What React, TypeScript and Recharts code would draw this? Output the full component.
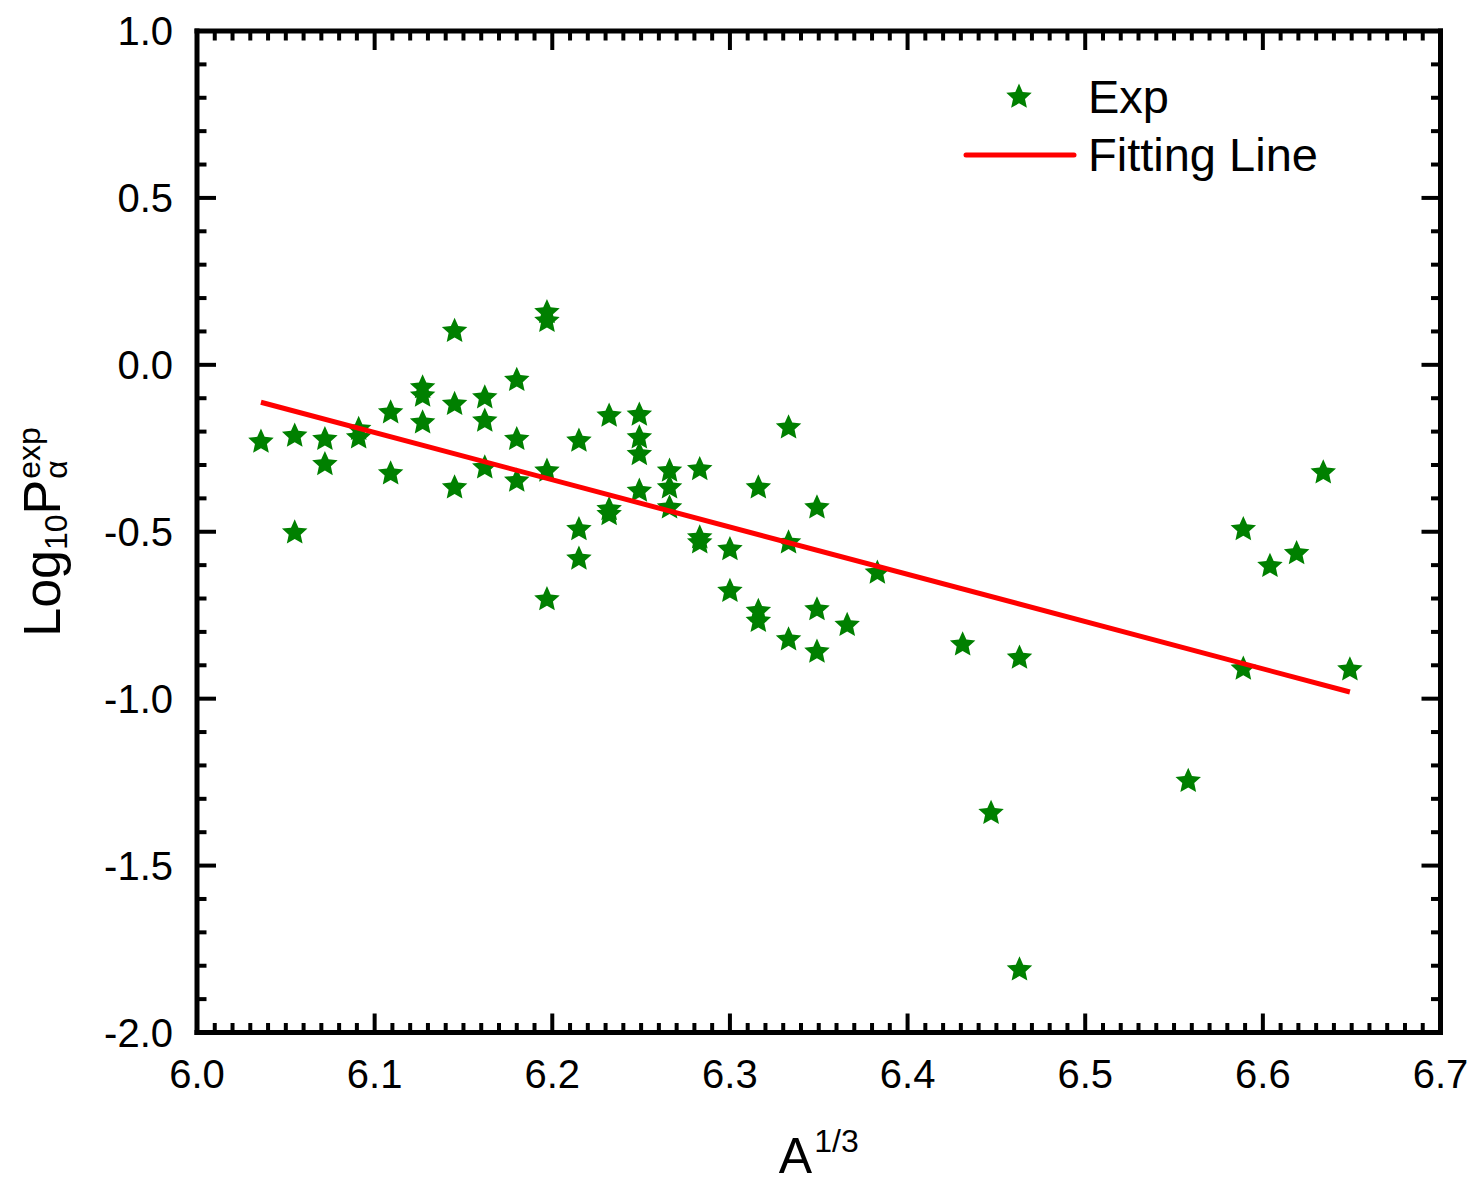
import { Scatter, ScatterChart, XAxis, YAxis } from "recharts";

// A^(1/3) of each nucleus and its log10 preformation probability
const cubeRootA = [
  6.036,
  6.055, 6.055,
  6.072, 6.072,
  6.091, 6.091,
  6.109, 6.109,
  6.127, 6.127, 6.127,
  6.145, 6.145, 6.145,
  6.162, 6.162, 6.162,
  6.18, 6.18, 6.18,
  6.197, 6.197, 6.197, 6.197,
  6.215, 6.215, 6.215,
  6.232, 6.232, 6.232,
  6.249, 6.249, 6.249, 6.249,
  6.266, 6.266, 6.266,
  6.283, 6.283, 6.283,
  6.3, 6.3,
  6.316, 6.316, 6.316,
  6.333, 6.333, 6.333,
  6.349, 6.349, 6.349,
  6.366,
  6.383,
  6.431,
  6.447,
  6.463, 6.463,
  6.558,
  6.589, 6.589,
  6.604,
  6.619,
  6.634,
  6.649,
];

const logP = [
  -0.228,
  -0.21, -0.5,
  -0.22, -0.295,
  -0.19, -0.215,
  -0.14, -0.323,
  -0.065, -0.09, -0.17,
  0.104, -0.115, -0.365,
  -0.095, -0.165, -0.305,
  -0.043, -0.22, -0.345,
  0.16, 0.134, -0.315, -0.7,
  -0.225, -0.49, -0.578,
  -0.15, -0.43, -0.445,
  -0.147, -0.215, -0.265, -0.375,
  -0.315, -0.365, -0.425,
  -0.31, -0.515, -0.53,
  -0.55, -0.675,
  -0.365, -0.735, -0.765,
  -0.185, -0.53, -0.82,
  -0.425, -0.73, -0.857,
  -0.777,
  -0.62,
  -0.835,
  -1.34,
  -0.875, -1.809,
  -1.244,
  -0.49, -0.908,
  -0.6,
  -0.562,
  -0.32,
  -0.91,
];

// fitting line end points
const fitX = [6.036, 6.649];
const fitY = [-0.112, -0.98];

const xMajorTicks = [6.0, 6.1, 6.2, 6.3, 6.4, 6.5, 6.6, 6.7];
const yMajorTicks = [-2.0, -1.5, -1.0, -0.5, 0.0, 0.5, 1.0];

const expData = cubeRootA.map((x, i) => ({ x, y: logP[i] }));
const fitData = fitX.map((x, i) => ({ x, y: fitY[i] }));

// minor ticks: 0.01 on x, 0.1 on y
const xTicks = Array.from({ length: 71 }, (_, i) => +(6 + i * 0.01).toFixed(2));
const yTicks = Array.from({ length: 31 }, (_, i) => +(-2 + i * 0.1).toFixed(1));

const W = 1476;
const H = 1188;
const FONT = "'Liberation Sans', Arial, sans-serif";
const GREEN = "#008000";
const RED = "#ff0000";
const STAR_R = 13.4;
const STAR_INNER = 0.47;
const MAJOR = 19;
const MINOR = 9.5;
const AXIS = { stroke: "#000", strokeWidth: 5, strokeLinecap: "square" as const };

const isMajorX = (v: number) => xMajorTicks.some((t) => Math.abs(t - v) < 1e-6);
const isMajorY = (v: number) => yMajorTicks.some((t) => Math.abs(t - v) < 1e-6);

// Origin-style five point star, a bit fatter than d3's
function starPoints(cx: number, cy: number) {
  const pts: string[] = [];
  for (let i = 0; i < 10; i++) {
    const r = i % 2 === 0 ? STAR_R : STAR_R * STAR_INNER;
    const a = -Math.PI / 2 + (i * Math.PI) / 5;
    pts.push(`${(cx + r * Math.cos(a)).toFixed(2)},${(cy + r * Math.sin(a)).toFixed(2)}`);
  }
  return pts.join(" ");
}

function Star({ cx, cy }: any) {
  if (cx == null || cy == null) return <g />;
  return <polygon points={starPoints(cx, cy + 1)} fill={GREEN} />;
}

function BottomTick({ x, y, payload }: any) {
  const major = isMajorX(payload.value);
  return (
    <g>
      <line x1={x} y1={y} x2={x} y2={y - (major ? MAJOR : MINOR)} stroke="#000" strokeWidth={4} />
      {major && (
        <text x={x} y={y + 55} textAnchor="middle" fontSize={40} fontFamily={FONT} fill="#000">
          {payload.value.toFixed(1)}
        </text>
      )}
    </g>
  );
}

function TopTick({ x, y, payload }: any) {
  const major = isMajorX(payload.value);
  return <line x1={x} y1={y} x2={x} y2={y + (major ? MAJOR : MINOR)} stroke="#000" strokeWidth={4} />;
}

function LeftTick({ x, y, payload }: any) {
  const major = isMajorY(payload.value);
  return (
    <g>
      <line x1={x} y1={y} x2={x + (major ? MAJOR : MINOR)} y2={y} stroke="#000" strokeWidth={4} />
      {major && (
        <text x={x - 24} y={y + 14} textAnchor="end" fontSize={40} fontFamily={FONT} fill="#000">
          {payload.value.toFixed(1)}
        </text>
      )}
    </g>
  );
}

function RightTick({ x, y, payload }: any) {
  const major = isMajorY(payload.value);
  return <line x1={x} y1={y} x2={x - (major ? MAJOR : MINOR)} y2={y} stroke="#000" strokeWidth={4} />;
}

function XTitle({ viewBox }: any) {
  const cx = viewBox.x + viewBox.width / 2;
  const by = viewBox.y + 140.5;
  return (
    <text x={cx} y={by} textAnchor="middle" fontSize={50} fontFamily={FONT} fill="#000">
      A
      <tspan fontSize={32} dx={2} dy={-21}>
        1/3
      </tspan>
    </text>
  );
}

function YTitle({ viewBox }: any) {
  const cy = viewBox.y + viewBox.height / 2;
  const start = -105;
  const alphaX = start + 1.668 * 52 + 1.112 * 32 + 0.667 * 52 + 1;
  return (
    <g transform={`translate(60, ${cy}) rotate(-90)`} fontFamily={FONT} fill="#000">
      <text x={start} y={0} fontSize={52}>
        Log
        <tspan fontSize={32} dy={7}>
          10
        </tspan>
        <tspan fontSize={52} dy={-7}>
          P
        </tspan>
        <tspan fontSize={32} dx={1} dy={-20}>
          exp
        </tspan>
      </text>
      <text x={alphaX} y={7} fontSize={32}>
        α
      </text>
    </g>
  );
}

function LegendBox() {
  return (
    <svg
      width={W}
      height={H}
      style={{ position: "absolute", left: 0, top: 0, pointerEvents: "none" }}
      fontFamily={FONT}
    >
      <Star cx={1019} cy={96} />
      <text x={1088} y={113} fontSize={47} fill="#000">
        Exp
      </text>
      <line x1={966} y1={155} x2={1074} y2={155} stroke={RED} strokeWidth={5} strokeLinecap="round" />
      <text x={1088} y={171} fontSize={47} fill="#000">
        Fitting Line
      </text>
    </svg>
  );
}

export default function App() {
  return (
    <div style={{ position: "absolute", left: 0, top: 0, width: W, height: H, background: "#fff" }}>
      <ScatterChart
        width={W}
        height={H}
        margin={{ top: 30, right: 34.5, bottom: 35.5, left: 47 }}
      >
        <XAxis
          xAxisId={0}
          type="number"
          dataKey="x"
          domain={[6.0, 6.7]}
          allowDataOverflow
          ticks={xTicks}
          interval={0}
          tickSize={0}
          tickMargin={0}
          tick={(p: any) => <BottomTick {...p} />}
          axisLine={AXIS}
          tickLine={false}
          height={120}
          label={(p: any) => <XTitle {...p} />}
        />
        <XAxis
          xAxisId="top"
          orientation="top"
          type="number"
          dataKey="x"
          domain={[6.0, 6.7]}
          allowDataOverflow
          ticks={xTicks}
          interval={0}
          tickSize={0}
          tickMargin={0}
          tick={(p: any) => <TopTick {...p} />}
          axisLine={AXIS}
          tickLine={false}
          height={1}
        />
        <YAxis
          yAxisId={0}
          type="number"
          dataKey="y"
          domain={[-2, 1]}
          allowDataOverflow
          ticks={yTicks}
          interval={0}
          tickSize={0}
          tickMargin={0}
          tick={(p: any) => <LeftTick {...p} />}
          axisLine={AXIS}
          tickLine={false}
          width={150}
          label={(p: any) => <YTitle {...p} />}
        />
        <YAxis
          yAxisId="right"
          orientation="right"
          type="number"
          dataKey="y"
          domain={[-2, 1]}
          allowDataOverflow
          ticks={yTicks}
          interval={0}
          tickSize={0}
          tickMargin={0}
          tick={(p: any) => <RightTick {...p} />}
          axisLine={AXIS}
          tickLine={false}
          width={1}
        />
        <Scatter
          name="Exp"
          data={expData}
          xAxisId={0}
          yAxisId={0}
          shape={(p: any) => <Star {...p} />}
          fill={GREEN}
          isAnimationActive={false}
        />
        {/* same domains as the bottom/left axes, so the mirror axes get drawn */}
        <Scatter
          name="Fitting Line"
          data={fitData}
          xAxisId="top"
          yAxisId="right"
          line={{ stroke: RED, strokeWidth: 5 }}
          lineType="joint"
          shape={() => <g />}
          isAnimationActive={false}
        />
      </ScatterChart>
      <LegendBox />
    </div>
  );
}
